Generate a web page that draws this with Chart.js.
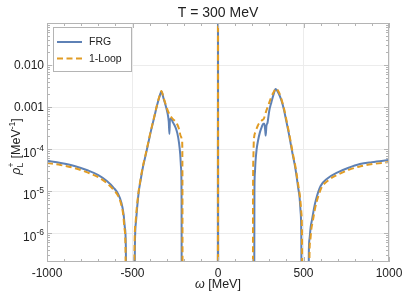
<!DOCTYPE html>
<html>
<head>
<meta charset="utf-8">
<script src="https://cdn.jsdelivr.net/npm/chart.js@4.4.1/dist/chart.umd.min.js"></script>
<style>
  html, body { margin: 0; padding: 0; background: #fff; }
  canvas { display: block; }
</style>
</head>
<body>
<canvas id="rhoChart" width="415" height="294"></canvas>
<script>
// Longitudinal spectral function rho_L^+ at T = 300 MeV
// values; 1e-9 marks "below the axis" (zero crossings / gap)

const frgOmega = [
    -1000, -920, -840, -760, -700, -650, -610, -585, -565, -552, -545, -539, -535,
    -491, -486, -479, -473, -463, -453, -440, -424, -410, -395, -375, -356, -340, -331,
    -318, -305, -295, -288, -284, -281, -275, -262, -250, -238, -228, -221, -216, -213, -212,
    -1, 0, 1,
    211, 213, 216, 219, 226, 234, 245, 255, 265, 271, 276, 279, 283, 290, 300, 312, 325, 337,
    345, 355, 370, 385, 400, 412, 425, 438, 450, 460, 468, 477, 483, 487, 490,
    529, 531, 535, 542, 550, 562, 574, 600, 640, 700, 760, 830, 900, 1000
];
const frgRho = [
    5.25e-5, 4.68e-5, 3.98e-5, 3.09e-5, 2.40e-5, 1.74e-5, 1.20e-5, 8.7e-6, 5.3e-6, 2.8e-6, 1.4e-6, 5e-7, 1e-9,
    1e-9, 5e-7, 2.0e-6, 4.0e-6, 1.0e-5, 1.78e-5, 3.55e-5, 6.9e-5, 1.26e-4, 2.4e-4, 5.25e-4, 1.12e-3, 1.9e-3, 2.34e-3,
    1.58e-3, 1.05e-3, 7.1e-4, 4.5e-4, 2.3e-4, 5.0e-4, 5.25e-4, 4.2e-4, 3.4e-4, 2.4e-4, 1.41e-4, 7.6e-5, 3.55e-5, 6.3e-6, 1e-9,
    1e-9, 10, 1e-9,
    1e-9, 1.0e-5, 2.8e-5, 4.8e-5, 1.0e-4, 1.58e-4, 2.5e-4, 3.3e-4, 4.0e-4, 4.0e-4, 2.8e-4, 2.1e-4, 3.5e-4, 4.3e-4, 8.3e-4, 1.29e-3, 2.0e-3, 2.7e-3,
    2.5e-3, 2.1e-3, 1.48e-3, 8.9e-4, 4.5e-4, 2.6e-4, 1.35e-4, 7.0e-5, 4.0e-5, 2.2e-5, 1.26e-5, 7.1e-6, 3.2e-6, 1.0e-6, 1e-9,
    1e-9, 3.2e-7, 7.2e-7, 1.41e-6, 2.1e-6, 4.0e-6, 6.5e-6, 1.32e-5, 2.0e-5, 2.8e-5, 3.55e-5, 4.4e-5, 4.9e-5, 5.5e-5
];

const loopOmega = [
    -1000, -920, -840, -760, -700, -650, -610, -585, -567, -554, -547, -541, -537,
    -493, -488, -481, -475, -464, -454, -441, -425, -410, -395, -375, -356, -340, -331,
    -318, -305, -292, -280, -265, -250, -240, -228, -217, -210, -208, -207,
    -1, 0, 1,
    204, 205, 207, 209, 211, 220, 232, 244, 256, 269, 280, 293, 310, 325, 340,
    350, 360, 372, 387, 402, 414, 427, 440, 452, 462, 471, 480, 487, 491, 494,
    533, 535, 539, 546, 554, 566, 578, 604, 644, 704, 764, 834, 904, 1000
];
const loopRho = [
    4.68e-5, 4.17e-5, 3.55e-5, 2.75e-5, 2.14e-5, 1.55e-5, 1.07e-5, 7.8e-6, 5.0e-6, 2.7e-6, 1.3e-6, 4.5e-7, 1e-9,
    1e-9, 5e-7, 2.0e-6, 4.0e-6, 1.0e-5, 1.8e-5, 3.6e-5, 7.0e-5, 1.3e-4, 2.5e-4, 5.4e-4, 1.15e-3, 1.95e-3, 2.4e-3,
    1.66e-3, 1.12e-3, 7.9e-4, 6.3e-4, 5.25e-4, 4.6e-4, 4.0e-4, 3.0e-4, 2.0e-4, 1.58e-4, 3.2e-5, 1e-9,
    1e-9, 10, 1e-9,
    1e-9, 1.0e-5, 6.3e-5, 1.41e-4, 1.9e-4, 2.6e-4, 3.55e-4, 4.3e-4, 4.8e-4, 5.4e-4, 7.6e-4, 1.07e-3, 1.66e-3, 2.24e-3, 2.75e-3,
    2.5e-3, 2.1e-3, 1.48e-3, 8.9e-4, 4.5e-4, 2.6e-4, 1.35e-4, 7.0e-5, 4.0e-5, 2.2e-5, 1.26e-5, 7.1e-6, 3.2e-6, 1.0e-6, 1e-9,
    1e-9, 3.0e-7, 6.5e-7, 1.26e-6, 1.9e-6, 3.6e-6, 5.8e-6, 1.18e-5, 1.8e-5, 2.5e-5, 3.2e-5, 3.9e-5, 4.4e-5, 4.9e-5
];

const seriesNames = ['FRG', '1-Loop'];
const xTickValues = [-1000, -500, 0, 500, 1000];
const xTickLabels = ['-1000', '-500', '0', '500', '1000'];
const yTickValues = [1e-6, 1e-5, 1e-4, 1e-3, 1e-2];
const yTickBase = ['10', '10', '10', '0.001', '0.010'];
const yTickExp = ['-6', '-5', '-4', '', ''];
const yMinorSteps = [2, 3, 4, 5, 6, 7, 8, 9];

const BLUE = '#5e81b5';
const ORANGE = '#e19c24';
const FRAME = '#b4b4b4';
const TEXT = '#222';
const FONT = '"Liberation Sans", Arial, sans-serif';

function toPoints(xs, ys) {
    return xs.map((x, i) => ({ x: x, y: ys[i] }));
}

// frame, ticks, labels, titles and the inset legend
const decorPlugin = {
    id: 'decor',
    afterDraw(chart) {
        const { ctx, chartArea: a } = chart;
        const xs = chart.scales.x, ys = chart.scales.y;
        ctx.save();

        // frame
        ctx.strokeStyle = FRAME;
        ctx.lineWidth = 1;
        ctx.strokeRect(Math.round(a.left) + 0.5, Math.round(a.top) + 0.5,
            Math.round(a.right - a.left) - 1, Math.round(a.bottom - a.top) - 1);

        // x ticks (top and bottom), every 100
        ctx.beginPath();
        for (let v = xs.min; v <= xs.max; v += 100) {
            const px = Math.round(xs.getPixelForValue(v)) + 0.5;
            const len = v % 500 === 0 ? 5 : 3;
            ctx.moveTo(px, a.bottom); ctx.lineTo(px, a.bottom - len);
            ctx.moveTo(px, a.top); ctx.lineTo(px, a.top + len);
        }
        // y ticks (left and right), log minor ticks
        const decades = [1e-7].concat(yTickValues, [1e-1]);
        decades.forEach(d => {
            [1].concat(yMinorSteps).forEach(m => {
                const v = d * m;
                if (v < ys.min || v > ys.max * 1.0001) return;
                const py = Math.round(ys.getPixelForValue(v)) + 0.5;
                const len = m === 1 ? 5 : 3;
                ctx.moveTo(a.left, py); ctx.lineTo(a.left + len, py);
                ctx.moveTo(a.right, py); ctx.lineTo(a.right - len, py);
            });
        });
        ctx.stroke();

        ctx.fillStyle = TEXT;

        // x tick labels
        ctx.font = '12px ' + FONT;
        ctx.textAlign = 'center';
        ctx.textBaseline = 'alphabetic';
        xTickValues.forEach((v, i) => {
            ctx.fillText(xTickLabels[i], xs.getPixelForValue(v), a.bottom + 15);
        });

        // y tick labels
        ctx.textAlign = 'left';
        yTickValues.forEach((v, i) => {
            const py = ys.getPixelForValue(v);
            const right = a.left - 3;
            ctx.font = '12px ' + FONT;
            const wb = ctx.measureText(yTickBase[i]).width;
            if (yTickExp[i]) {
                ctx.font = '8.5px ' + FONT;
                const we = ctx.measureText(yTickExp[i]).width;
                ctx.font = '12px ' + FONT;
                ctx.fillText(yTickBase[i], right - wb - we, py + 8);
                ctx.font = '8.5px ' + FONT;
                ctx.fillText(yTickExp[i], right - we, py + 2);
            } else {
                ctx.fillText(yTickBase[i], right - wb, py + 4.3);
            }
        });

        // title
        ctx.font = '14px ' + FONT;
        ctx.textAlign = 'center';
        ctx.fillText('T = 300 MeV', (a.left + a.right) / 2, 17);

        // x axis title: omega [MeV]
        ctx.textAlign = 'left';
        ctx.font = 'italic 12.5px ' + FONT;
        const wOm = ctx.measureText('\u03c9').width;
        ctx.font = '12.5px ' + FONT;
        const wRest = ctx.measureText(' [MeV]').width;
        let sx = (a.left + a.right) / 2 - (wOm + wRest) / 2;
        ctx.font = 'italic 12.5px ' + FONT;
        ctx.fillText('\u03c9', sx, 288);
        ctx.font = '12.5px ' + FONT;
        ctx.fillText(' [MeV]', sx + wOm, 288);

        // y axis title: rho_L^+ [MeV^-1], rotated
        ctx.save();
        ctx.translate(15, (a.top + a.bottom) / 2 + 4);
        ctx.rotate(-Math.PI / 2);
        const big = '12.5px ' + FONT, small = '8.5px ' + FONT;
        ctx.font = 'italic ' + big; const wRho = ctx.measureText('\u03c1').width;
        ctx.font = small; const wL = ctx.measureText('L').width;
        ctx.font = big; const wMev = ctx.measureText(' [MeV').width;
        ctx.font = small; const wExp = ctx.measureText('-1').width;
        ctx.font = big; const wBr = ctx.measureText(']').width;
        const total = wRho + wL + 1 + wMev + wExp + wBr;
        let tx = -total / 2;
        const base = 4.5;
        ctx.font = 'italic ' + big; ctx.fillText('\u03c1', tx, base); tx += wRho;
        ctx.font = small; ctx.fillText('L', tx, base + 3); ctx.fillText('+', tx, base - 6); tx += wL + 1;
        ctx.font = big; ctx.fillText(' [MeV', tx, base); tx += wMev;
        ctx.font = small; ctx.fillText('-1', tx, base - 5); tx += wExp;
        ctx.font = big; ctx.fillText(']', tx, base);
        ctx.restore();

        // inset legend
        const lx = 53.5, ly = 27.5, lw = 78, lh = 44;
        ctx.fillStyle = '#fff';
        ctx.fillRect(lx, ly, lw, lh);
        ctx.strokeStyle = FRAME;
        ctx.lineWidth = 1;
        ctx.strokeRect(lx, ly, lw, lh);
        ctx.font = '10.5px ' + FONT;
        ctx.textBaseline = 'middle';
        chart.data.datasets.forEach((ds, i) => {
            const yy = ly + 14.5 + i * 16.5;
            ctx.strokeStyle = ds.borderColor;
            ctx.lineWidth = 2;
            ctx.setLineDash(ds.borderDash || []);
            ctx.beginPath();
            ctx.moveTo(lx + 3.5, yy);
            ctx.lineTo(lx + 28.5, yy);
            ctx.stroke();
            ctx.setLineDash([]);
            ctx.fillStyle = TEXT;
            ctx.fillText(seriesNames[i], lx + 35.5, yy + 0.5);
        });

        ctx.restore();
    }
};

new Chart(document.getElementById('rhoChart'), {
    type: 'line',
    data: {
        datasets: [
            {
                label: seriesNames[0],
                data: toPoints(frgOmega, frgRho),
                borderColor: BLUE,
                borderWidth: 2,
                pointRadius: 0,
                cubicInterpolationMode: 'monotone',
                order: 1
            },
            {
                label: seriesNames[1],
                data: toPoints(loopOmega, loopRho),
                borderColor: ORANGE,
                borderWidth: 2,
                borderDash: [6, 3.5],
                pointRadius: 0,
                cubicInterpolationMode: 'monotone',
                order: 0
            }
        ]
    },
    options: {
        responsive: false,
        animation: false,
        devicePixelRatio: 1,
        layout: { padding: { left: 47, right: 26, top: 23, bottom: 32 } },
        plugins: {
            legend: { display: false },
            tooltip: { enabled: false }
        },
        scales: {
            x: {
                type: 'linear',
                min: -1000,
                max: 1000,
                afterBuildTicks: axis => { axis.ticks = xTickValues.map(v => ({ value: v })); },
                ticks: { display: false },
                grid: { color: '#ececec', drawTicks: false },
                border: { display: false }
            },
            y: {
                type: 'logarithmic',
                min: 2.06e-7,
                max: 0.1,
                afterBuildTicks: axis => { axis.ticks = yTickValues.map(v => ({ value: v })); },
                ticks: { display: false },
                grid: { color: '#ececec', drawTicks: false },
                border: { display: false }
            }
        }
    },
    plugins: [decorPlugin]
});
</script>
</body>
</html>
